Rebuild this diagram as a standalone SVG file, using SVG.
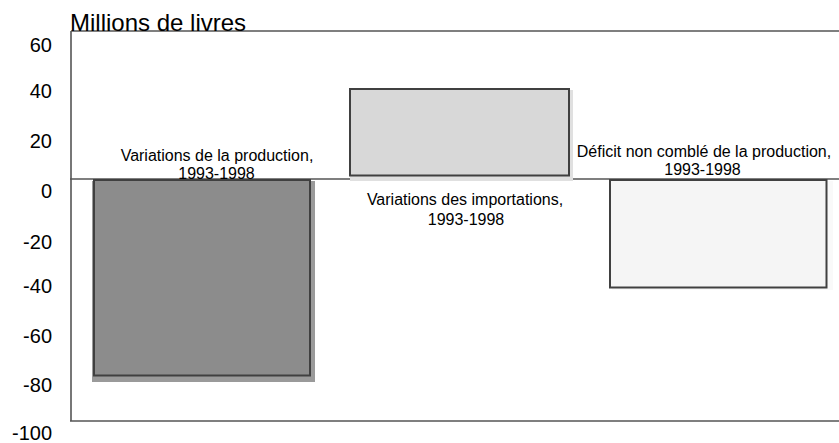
<svg xmlns="http://www.w3.org/2000/svg" width="839" height="443" viewBox="0 0 839 443">
<style>
.t{font-family:"Liberation Sans",Arial,sans-serif;fill:#000}
.ax{font-size:20px;text-anchor:end}
.lb{font-size:16px;text-anchor:middle}
.frame{stroke:#555;stroke-width:1.6;fill:none}
.bar{stroke:#404040;stroke-width:2}
</style>
<rect width="839" height="443" fill="#fff"/>
<g id="axes">
<line class="frame" x1="71" y1="31" x2="839" y2="31"/>
<line class="frame" x1="71" y1="31" x2="71" y2="421"/>
<line class="frame" x1="70" y1="421" x2="839" y2="421"/>
<line class="frame" x1="70" y1="179" x2="839" y2="179"/>
</g>
<g id="ylabels">
<text class="t ax" x="52" y="52">60</text>
<text class="t ax" x="52" y="98">40</text>
<text class="t ax" x="52" y="148">20</text>
<text class="t ax" x="52" y="198">0</text>
<text class="t ax" x="52" y="249">-20</text>
<text class="t ax" x="52" y="293">-40</text>
<text class="t ax" x="52" y="343">-60</text>
<text class="t ax" x="52" y="392">-80</text>
<text class="t ax" x="52" y="440">-100</text>
</g>
<text id="title" class="t" x="70" y="31" font-size="24">Millions de livres</text>
<g id="bar-production">
<rect x="92" y="181" width="223" height="201" fill="#9a9a9a"/>
<rect class="bar" x="94" y="180" width="216" height="195.5" fill="#8c8c8c"/>
<text class="t lb" x="217" y="160.5">Variations de la production,</text>
<text class="t lb" x="216.5" y="178.5">1993-1998</text>
</g>
<g id="bar-importations">
<rect x="350" y="90" width="223" height="91" fill="#e0e0e0"/>
<rect class="bar" x="350" y="89" width="219" height="86.5" fill="#d8d8d8"/>
<text class="t lb" x="465" y="205">Variations des importations,</text>
<text class="t lb" x="466" y="225">1993-1998</text>
</g>
<g id="bar-deficit">
<rect x="612" y="181" width="221" height="109" fill="#f9f9f9"/>
<rect class="bar" x="610" y="180" width="216.5" height="107.5" fill="#f5f5f5"/>
<text class="t lb" x="704" y="157">Déficit non comblé de la production,</text>
<text class="t lb" x="702.5" y="175">1993-1998</text>
</g>
</svg>
